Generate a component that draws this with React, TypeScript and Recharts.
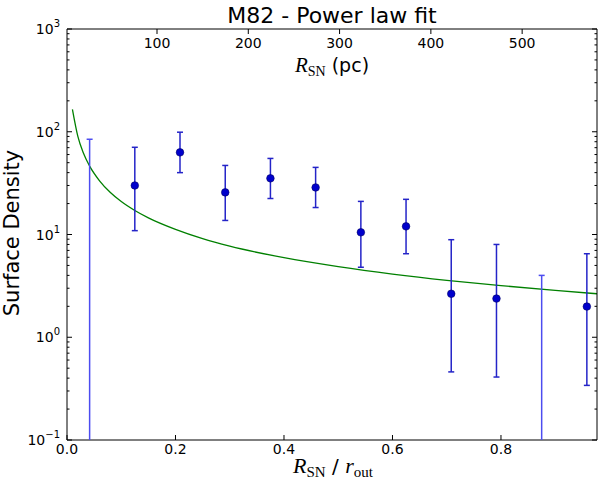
import React from 'react';
import { ComposedChart, Scatter, Line, XAxis, YAxis, ErrorBar } from 'recharts';

// radial bins (R_SN / r_out) and measured surface density with error bounds
const rNorm = [0.0417, 0.125, 0.2083, 0.2917, 0.375, 0.4583, 0.5417, 0.625, 0.7083, 0.7917, 0.875, 0.9583];
const density = [null, 30, 63, 25.7, 35.2, 28.7, 10.5, 12, 2.65, 2.38, null, 1.99];
const upper = [84.5, 70.6, 99, 47, 55, 45, 21, 22, 8.9, 8.0, 4.0, 6.5];
const lower = [null, 10.9, 40, 13.7, 22.4, 18.3, 4.8, 6.5, 0.46, 0.41, null, 0.34];

// power law fit
const fitX = [0.01, 0.02, 0.03, 0.042, 0.06, 0.08, 0.1, 0.125, 0.15, 0.2, 0.25, 0.3, 0.4, 0.5, 0.6, 0.7, 0.8, 0.9, 0.977];
const fitY = [165, 90, 62.4, 46, 33.3, 25.6, 20.9, 17.1, 14.5, 11.2, 9.1, 7.7, 5.95, 4.87, 4.12, 3.58, 3.18, 2.86, 2.65];

const xTicks = [0, 0.2, 0.4, 0.6, 0.8];
const pcTicks = [100, 200, 300, 400, 500];
const decades = [0.1, 1, 10, 100, 1000];
const minorSteps = [2, 3, 4, 5, 6, 7, 8, 9];

const W = 600;
const H = 486;
const margin = { top: 28, right: 2, bottom: 45, left: 66 };
const plotBottom = H - margin.bottom - 1;

const logTicks = decades.concat(
  decades.slice(0, -1).flatMap((d) => minorSteps.map((m) => +(d * m).toPrecision(3)))
);

const dotData = rNorm
  .map((x, i) => ({ x, y: density[i], lo: lower[i], hi: upper[i] }))
  .filter((d) => d.y != null)
  .map((d) => ({ x: d.x, y: d.y as number, err: [(d.y as number) - (d.lo as number), d.hi - (d.y as number)] }));

// bins whose centre is off the log scale: only the upper end of the bar is known
const loneData = rNorm
  .map((x, i) => ({ x, y: upper[i], c: density[i] }))
  .filter((d) => d.c == null)
  .map((d) => ({ x: d.x, y: d.y }));

const fitData = fitX.map((x, i) => ({ x, y: fitY[i] }));

// invisible anchor so the secondary (pc) axis has something to scale
const pcData = pcTicks.map((pc) => ({ pc, y: 1 }));

const FONT = 'DejaVu Sans, sans-serif';
const SERIF = 'Liberation Serif, DejaVu Serif, serif';

const isMajor = (v: number) => Math.abs(Math.log10(v) - Math.round(Math.log10(v))) < 1e-6;

const BottomTick = (props: any) => {
  const { x, y, payload } = props;
  return (
    <g>
      <line x1={x} x2={x} y1={y} y2={y - 5} stroke="#000" />
      <text x={x} y={y + 14} textAnchor="middle" fontSize={14} fontFamily={FONT} fill="#000">
        {payload.value.toFixed(1)}
      </text>
    </g>
  );
};

const TopTick = (props: any) => {
  const { x, y, payload } = props;
  return (
    <g>
      <line x1={x} x2={x} y1={y} y2={y + 5} stroke="#000" />
      <text x={x} y={y + 19} textAnchor="middle" fontSize={14} fontFamily={FONT} fill="#000">
        {payload.value}
      </text>
    </g>
  );
};

const LeftTick = (props: any) => {
  const { x, y, payload } = props;
  const major = isMajor(payload.value);
  const exp = Math.round(Math.log10(payload.value));
  return (
    <g>
      <line x1={x} x2={x + (major ? 5 : 2.5)} y1={y} y2={y} stroke="#000" />
      {major && (
        <text x={x - 7} y={y + 5} textAnchor="end" fontSize={14} fontFamily={FONT} fill="#000">
          <tspan>10</tspan>
          <tspan dy={-7} fontSize={10}>{exp < 0 ? '\u2212' + Math.abs(exp) : exp}</tspan>
        </text>
      )}
    </g>
  );
};

const RightTick = (props: any) => {
  const { x, y, payload } = props;
  const major = isMajor(payload.value);
  return <line x1={x} x2={x - (major ? 5 : 2.5)} y1={y} y2={y} stroke="#000" />;
};

const Dot = (props: any) => {
  const { cx, cy } = props;
  return <circle cx={cx} cy={cy} r={3.8} fill="#0000cc" stroke="#000066" strokeWidth={0.6} />;
};

const NoDot = () => <g />;

// bar from the upper bound down through the bottom of the plot
const LoneBar = (props: any) => {
  const { cx, cy } = props;
  return (
    <g stroke="#4c4cf0" strokeWidth={1.5}>
      <line x1={cx} x2={cx} y1={cy} y2={plotBottom} />
      <line x1={cx - 3} x2={cx + 3} y1={cy} y2={cy} />
    </g>
  );
};

const axisCommon = {
  tickSize: 0,
  tickMargin: 0,
  tickLine: false,
  axisLine: { stroke: '#000' },
  allowDataOverflow: true,
  interval: 0 as const,
};

export default function App() {
  return (
    <div style={{ position: 'relative', width: W, height: H, background: '#fff' }}>
      <style>{'body{margin:0}'}</style>
      <ComposedChart width={W} height={H} margin={margin}>
        <XAxis
          {...axisCommon}
          xAxisId="x"
          dataKey="x"
          type="number"
          domain={[0, 0.977]}
          ticks={xTicks}
          height={1}
          tick={<BottomTick />}
        />
        <XAxis
          {...axisCommon}
          xAxisId="pc"
          dataKey="pc"
          orientation="top"
          type="number"
          domain={[1.4, 582]}
          ticks={pcTicks}
          height={1}
          tick={<TopTick />}
        />
        <YAxis
          {...axisCommon}
          yAxisId="left"
          scale="log"
          type="number"
          domain={[0.1, 1000]}
          ticks={logTicks}
          width={1}
          tick={<LeftTick />}
        />
        <YAxis
          {...axisCommon}
          yAxisId="right"
          orientation="right"
          scale="log"
          type="number"
          domain={[0.1, 1000]}
          ticks={logTicks}
          width={1}
          tick={<RightTick />}
        />
        <Scatter data={pcData} dataKey="y" xAxisId="pc" yAxisId="right" shape={<NoDot />} isAnimationActive={false} />
        <Line
          data={fitData}
          dataKey="y"
          xAxisId="x"
          yAxisId="left"
          type="monotone"
          stroke="#008000"
          strokeWidth={1.3}
          dot={false}
          activeDot={false}
          isAnimationActive={false}
        />
        <Scatter data={loneData} dataKey="y" xAxisId="x" yAxisId="left" shape={<LoneBar />} isAnimationActive={false} />
        <Scatter data={dotData} dataKey="y" xAxisId="x" yAxisId="left" shape={<Dot />} isAnimationActive={false}>
          <ErrorBar dataKey="err" direction="y" width={3} stroke="#2424c8" strokeWidth={1.5} isAnimationActive={false} />
        </Scatter>
      </ComposedChart>
      <svg width={W} height={H} style={{ position: 'absolute', left: 0, top: 0, pointerEvents: 'none' }}>
        <text x={332} y={23} textAnchor="middle" fontSize={22} fontFamily={FONT} fill="#000">
          M82 - Power law fit
        </text>
        <text
          x={19}
          y={233}
          transform="rotate(-90 19 233)"
          textAnchor="middle"
          fontSize={21}
          fontFamily={FONT}
          fill="#000"
        >
          Surface Density
        </text>
        <text x={332} y={72} textAnchor="middle" fontSize={21} fontFamily={SERIF} fill="#000">
          <tspan fontStyle="italic">R</tspan>
          <tspan fontSize={14} dy={4}>SN</tspan>
          <tspan dy={-4} fontFamily={FONT} fontSize={19}> (pc)</tspan>
        </text>
        <text x={333} y={473} textAnchor="middle" fontSize={22} fontFamily={SERIF} fill="#000">
          <tspan fontStyle="italic">R</tspan>
          <tspan fontSize={15} dy={4}>SN</tspan>
          <tspan dy={-4} fontFamily={FONT} fontSize={20}> / </tspan>
          <tspan fontStyle="italic">r</tspan>
          <tspan fontSize={15} dy={4}>out</tspan>
        </text>
      </svg>
    </div>
  );
}
